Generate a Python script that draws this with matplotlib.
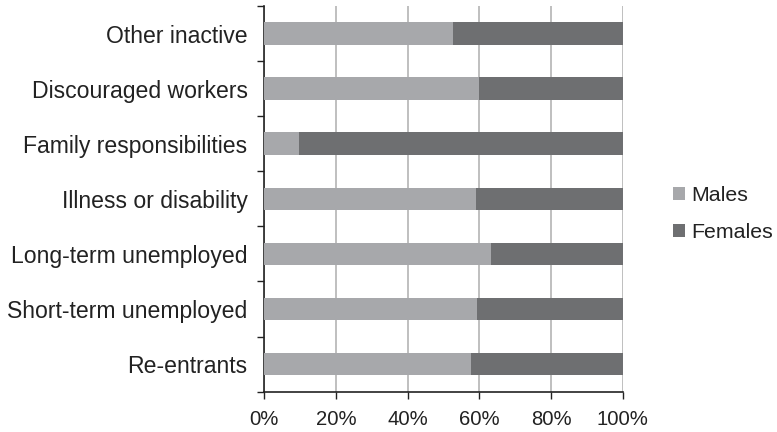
import numpy as np
import matplotlib.pyplot as plt
from matplotlib.ticker import FixedLocator, PercentFormatter

categories = ["Re-entrants", "Short-term unemployed", "Long-term unemployed",
              "Illness or disability", "Family responsibilities",
              "Discouraged workers", "Other inactive"]
males = [57.6, 59.3, 63.2, 59.1, 9.7, 59.9, 52.6]
females = [100 - m for m in males]

male_color = "#a7a8ab"
female_color = "#6e6f71"

plt.rcParams["font.family"] = ["Liberation Sans", "DejaVu Sans"]
plt.rcParams["text.color"] = "#222222"

fig = plt.figure(figsize=(7.77, 4.32), dpi=100)
ax = fig.add_axes([0.340, 0.0933, 0.4614, 0.8928])

y = np.arange(len(categories))
ax.barh(y, males, height=0.41, color=male_color, label="Males", zorder=3)
ax.barh(y, females, left=males, height=0.41, color=female_color, label="Females", zorder=3)

ax.set_xlim(0, 100)
ax.set_ylim(-0.5, len(categories) - 0.5)
ax.set_xticks([0, 20, 40, 60, 80, 100])
ax.xaxis.set_major_formatter(PercentFormatter(decimals=0))
ax.set_yticks(y)
ax.set_yticklabels(categories)
ax.yaxis.set_minor_locator(FixedLocator(np.arange(-0.5, len(categories), 1.0)))

ax.tick_params(axis="y", which="major", length=0, pad=12, labelsize=16.6, labelcolor="#222222")
ax.tick_params(axis="y", which="minor", length=5, width=1, direction="out", color="#222222")
ax.tick_params(axis="x", length=5, width=1, direction="out", labelsize=14.6, pad=8,
               color="#222222", labelcolor="#222222")

ax.grid(axis="x", color="#b4b4b4", linewidth=1.2, zorder=0)
for s in ["top", "right"]:
    ax.spines[s].set_visible(False)
for s in ["left", "bottom"]:
    ax.spines[s].set_color("#222222")
    ax.spines[s].set_linewidth(1.2)

fig.legend(loc="center left", bbox_to_anchor=(0.866, 0.505), frameon=False,
           fontsize=15.4, handlelength=0.55, handleheight=0.55, handletextpad=0.3,
           labelspacing=0.85, borderaxespad=0, borderpad=0)

fig.savefig("out.png", dpi=100)
